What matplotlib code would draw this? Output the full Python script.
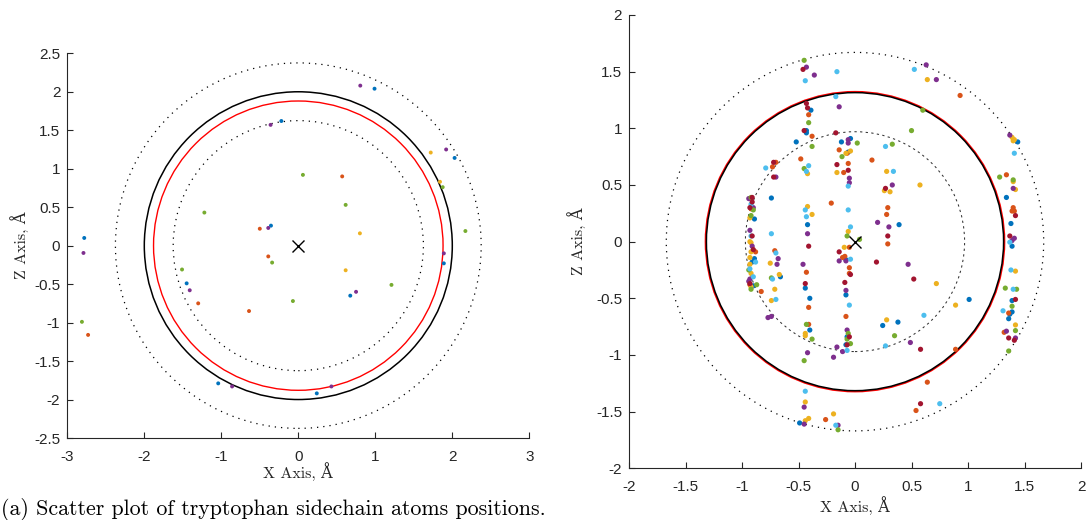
import numpy as np
import matplotlib
matplotlib.use("Agg")
import matplotlib.pyplot as plt
from matplotlib.patches import Circle

# MATLAB-style colour order
C_BLUE = "#0072BD"
C_ORANGE = "#D95319"
C_YELLOW = "#EDB120"
C_PURPLE = "#7E2F8E"
C_GREEN = "#77AC30"
C_LBLUE = "#4DBEEE"
C_DRED = "#A2142F"

# ---------------- panel (a): sidechain atom positions ----------------
a_blue_x = [-2.78, -0.22, -0.355, -1.45, -1.04, 0.99, 2.03, 1.89, 0.675, 0.24]
a_blue_z = [0.10, 1.62, 0.26, -0.49, -1.79, 2.04, 1.14, -0.23, -0.65, -1.92]
a_orange_x = [-0.50, -0.39, -1.30, -0.64, -2.73, 0.57]
a_orange_z = [0.22, -0.14, -0.75, -0.85, -1.16, 0.90]
a_yellow_x = [1.72, 1.84, 0.80, 0.615]
a_yellow_z = [1.21, 0.83, 0.16, -0.32]
a_purple_x = [-2.79, -0.36, -0.39, -1.41, -0.86, 0.805, 1.92, 1.89, 0.75, 0.43]
a_purple_z = [-0.095, 1.57, 0.23, -0.58, -1.83, 2.08, 1.25, -0.10, -0.60, -1.83]
a_green_x = [-1.22, -0.34, -1.51, -0.07, -2.81, 0.06, 1.875, 2.17, 0.615, 1.21]
a_green_z = [0.43, -0.22, -0.31, -0.72, -0.99, 0.92, 0.76, 0.19, 0.53, -0.51]

a_r_black = 2.0
a_r_red = 1.88
a_r_dotted = [2.375, 1.625]

# ---------------- panel (b) ----------------
b_blue_x = [-0.39, -0.43, -0.43, -0.52, -0.04, -0.12, -0.06, -0.74, -0.42, -0.89,
            0.39, 1.44, 1.34, 1.38,
            1.39, 1.39, 1.39, 1.37, 1.36, 0.245, 0.38, 1.01,
            -0.89, -0.91, -0.90, -0.66, -0.44, -0.40, -0.40, -0.49, -0.08, -0.07, -0.08, -0.08]
b_blue_z = [1.16, 0.98, 0.96, 0.88, 0.91, 0.88, 0.79, 0.385, 0.15, 0.20,
            0.15, 0.88, 0.39, 0.16,
            -0.04, -0.52, -0.62, -0.64, -0.68, -0.74, -0.71, -0.51,
            -0.15, -0.18, -0.39, -0.31, -0.41, -0.50, -0.78, -1.60, -0.47, -0.84, -0.91, -0.16]
b_orange_x = [-0.41, -0.38, -0.14, -0.07, -0.48, -0.70, -0.73, -0.10, -0.06, -0.21, -0.92,
              0.93, 0.15, 0.29, 0.28, 1.34, 1.40, 1.39, 1.41,
              1.36, 1.32, 0.89, 0.29, 0.64, 0.54,
              -0.88, -0.93, -0.83, -0.71, -0.43, -0.41, -0.41, -0.26, -0.09, -0.05, -0.05,
              -0.08, -0.05, -0.11]
b_orange_z = [1.12, 0.93, 0.81, 0.78, 0.73, 0.70, 0.66, 0.61, 0.69, 0.34, 0.29,
              1.29, 0.72, 0.30, 0.24, 0.59, 0.30, 0.27, 0.27,
              -0.63, -0.80, -0.95, -0.02, -1.24, -1.49,
              -0.09, -0.38, -0.44, -0.08, -0.27, -0.58, -0.73, -1.57, -0.13, -0.23, -0.28,
              -0.66, -0.05, -0.14]
b_yellow_x = [-0.08, -0.04, -0.42, -0.16, -0.42, -0.38, -0.06, -0.93,
              0.64, 0.28, 0.26, 0.31, 0.575, 1.39, 1.40, 1.41, 1.40, 1.42,
              1.42, 1.42, 0.28, 0.89, 0.72,
              -0.93, -0.92, -0.92, -0.93, -0.93, -0.92, -0.92, -0.75, -0.67, -0.71, -0.74,
              -0.44, -0.44, -0.44, -0.41, -0.44, -0.19, -0.095]
b_yellow_z = [0.78, 0.80, 0.60, 0.61, 0.31, 0.24, 0.09, 0.21,
              1.43, 0.62, 0.45, 0.44, 0.50, 0.92, 0.89, 0.90, 0.53, 0.46,
              -0.26, -0.735, -0.69, -0.56, -0.37,
              0.0, -0.01, -0.09, -0.14, -0.20, -0.28, -0.40, -0.19, -0.29, -0.42, -0.52,
              -0.81, -0.83, -1.415, -1.56, -1.58, -1.52, -0.05]
b_purple_x = [-0.43, -0.36, -0.14, -0.06, -0.06, -0.70, -0.05, -0.05, -0.42, -0.94, -0.90, -0.93,
              0.63, 0.72, 0.33, 0.20, 0.30, 1.37, 1.40, 1.41,
              1.39, 1.34, 1.42, 0.49, 0.47,
              -0.91, -0.93, -0.94, -0.68, -0.69, -0.77, -0.74, -0.46, -0.42, -0.45, -0.45,
              -0.15, -0.08, -0.08, -0.07, -0.11, -0.16, -0.19, -0.14]
b_purple_z = [1.54, 1.47, 1.19, 0.90, 0.87, 0.57, 0.56, 0.52, 0.07, 0.38, 0.30, 0.10,
              1.56, 1.43, 0.50, 0.17, 0.13, 0.94, 0.47, 0.03,
              0.01, -0.79, -0.85, -0.89, -0.20,
              -0.04, -0.33, -0.35, -0.15, -0.20, -0.67, -0.66, -0.20, -0.98, -1.46, -1.61,
              -1.62, -0.17, -0.43, -0.78, -0.97, -0.93, -1.02, -0.17]
b_green_x = [-0.45, -0.41, -0.38, -0.115, -0.45, -0.92, -0.90, -0.92,
             0.60, 0.50, 0.33, 0.02, 1.28, 1.40,
             1.33, 1.43, 1.39, 1.42, 1.36, 0.35,
             -0.94, -0.87, -0.92, -0.74, -0.43, -0.38, -0.45, -0.15, -0.06, -0.07, -0.04,
             -0.07, 0.04]
b_green_z = [1.60, 1.05, 0.84, 0.75, 0.645, 0.39, 0.28, 0.23,
             1.16, 0.98, 0.86, 0.87, 0.57, 0.545,
             -0.41, -0.42, -0.57, -0.785, -0.965, -0.83,
             -0.25, -0.38, -0.42, -0.32, -0.73, -0.86, -1.05, -1.66, -0.81, -0.86, -0.90,
             0.05, 0.02]
b_lblue_x = [-0.44, -0.16, -0.17, -0.79, -0.41, -0.43, -0.06, -0.06, -0.44, -0.43, -0.74, -0.04,
             -0.92, -0.92,
             0.525, 0.27, 0.34, 1.41,
             1.37, 1.38, 1.40, 1.31, 0.27, 0.61, 0.75,
             -0.88, -0.93, -0.90, -0.70, -0.73, -0.70, -0.44, -0.17, -0.05, -0.07, -0.04]
b_lblue_z = [1.42, 1.50, 1.28, 0.65, 0.67, 0.62, 0.49, 0.28, 0.28, 0.22, 0.07, 0.13,
             0.33, 0.05,
             1.52, 0.84, 0.62, 0.78,
             -0.005, -0.25, -0.42, -0.61, -0.92, -0.65, -1.43,
             -0.18, -0.24, -0.31, -0.10, -0.33, -0.51, -1.32, -1.62, -0.56, -0.96, -0.155]
b_dred_x = [-0.46, -0.43, -0.42, -0.45, -0.17, -0.72, -0.72, -0.16, -0.06, -0.91, -0.91, -0.93, -0.91,
            0.27, 0.29, 1.42, 1.37,
            1.42, 1.36, 1.41, 0.58, 0.52, 0.19, 0.58,
            -0.90, -0.93, -0.41, -0.44, -0.14, -0.04, -0.09, -0.05, -0.07]
b_dred_z = [1.52, 1.22, 1.18, 0.98, 0.96, 0.70, 0.57, 0.68, 0.63, 0.39, 0.35, 0.30, 0.05,
            0.47, 0.05, 0.23, 0.05,
            -0.51, -0.85, -0.87, -0.95, -0.33, -0.18, -1.43,
            -0.07, -0.37, -0.04, -0.37, -0.09, -0.29, -0.36, -0.84, -0.91]

b_r_black = 1.315
b_r_red = 1.323
b_r_outer = 1.67
b_r_inner = 0.97

a_xticks = [-3, -2, -1, 0, 1, 2, 3]
a_yticks = [-2.5, -2, -1.5, -1, -0.5, 0, 0.5, 1, 1.5, 2, 2.5]
b_ticks = [-2, -1.5, -1, -0.5, 0, 0.5, 1, 1.5, 2]

AXIS_COLOR = "#262626"
SERIF = ["cmr10", "DejaVu Serif"]
TICK_FONT = "Liberation Sans"

plt.rcParams["axes.formatter.use_mathtext"] = True

fig = plt.figure(figsize=(10.86, 5.20), dpi=100)


def fmt(v):
    return "%g" % v


def style_axes(ax, xticks, yticks, xlim, ylim, xpad, ypad):
    ax.set_xlim(*xlim)
    ax.set_ylim(*ylim)
    for side in ("top", "right"):
        ax.spines[side].set_visible(False)
    for side in ("left", "bottom"):
        ax.spines[side].set_color(AXIS_COLOR)
        ax.spines[side].set_linewidth(0.8)
    ax.set_xticks(xticks)
    ax.set_yticks(yticks)
    ax.set_xticklabels([fmt(v) for v in xticks], fontfamily=TICK_FONT, fontsize=11,
                       color=AXIS_COLOR)
    ax.set_yticklabels([fmt(v) for v in yticks], fontfamily=TICK_FONT, fontsize=11,
                       color=AXIS_COLOR)
    ax.tick_params(direction="in", length=4, width=0.8, color=AXIS_COLOR)
    ax.tick_params(axis="x", pad=8.5)
    ax.tick_params(axis="y", pad=5)
    ax.set_xlabel("X Axis, Å", fontfamily=SERIF, fontsize=11.5, color=AXIS_COLOR, labelpad=xpad)
    ax.set_ylabel("Z Axis, Å", fontfamily=SERIF, fontsize=11.5, color=AXIS_COLOR, labelpad=ypad)


# ---- left panel ----
ax1 = fig.add_axes([67.3 / 1086, (520 - 438) / 520, 462 / 1086, 384.7 / 520])
style_axes(ax1, a_xticks, a_yticks, (-3, 3), (-2.5, 2.5), xpad=-1.5, ypad=4)
for r in a_r_dotted:
    ax1.add_patch(Circle((0, 0), r, fill=False, ec="black", lw=0.9, ls=(0, (1, 4))))
ax1.add_patch(Circle((0, 0), a_r_black, fill=False, ec="black", lw=1.1))
ax1.add_patch(Circle((0, 0), a_r_red, fill=False, ec="red", lw=1.0))
for xs, zs, c in [(a_blue_x, a_blue_z, C_BLUE), (a_orange_x, a_orange_z, C_ORANGE),
                  (a_yellow_x, a_yellow_z, C_YELLOW), (a_purple_x, a_purple_z, C_PURPLE),
                  (a_green_x, a_green_z, C_GREEN)]:
    ax1.scatter(xs, zs, s=8, color=c, edgecolors="none", zorder=3)
ax1.plot([0], [0], marker="x", color="black", ms=9, mew=1.0, zorder=4)

# ---- right panel ----
ax2 = fig.add_axes([629 / 1086, (520 - 468.3) / 520, 452 / 1086, 453.3 / 520])
style_axes(ax2, b_ticks, b_ticks, (-2, 2), (-2, 2), xpad=1.5, ypad=7)
ax2.add_patch(Circle((0, 0), b_r_outer, fill=False, ec="black", lw=0.9, ls=(0, (1, 4))))
ax2.add_patch(Circle((0, 0), b_r_inner, fill=False, ec="#333333", lw=0.75, ls=(0, (2.2, 3.2))))
ax2.add_patch(Circle((0, 0), b_r_red, fill=False, ec="red", lw=1.2))
ax2.add_patch(Circle((0, 0), b_r_black, fill=False, ec="black", lw=1.1))
for xs, zs, c in [(b_blue_x, b_blue_z, C_BLUE), (b_orange_x, b_orange_z, C_ORANGE),
                  (b_yellow_x, b_yellow_z, C_YELLOW), (b_purple_x, b_purple_z, C_PURPLE),
                  (b_green_x, b_green_z, C_GREEN), (b_lblue_x, b_lblue_z, C_LBLUE),
                  (b_dred_x, b_dred_z, C_DRED)]:
    ax2.scatter(xs, zs, s=14, color=c, edgecolors="none", zorder=3)
ax2.plot([0], [0], marker="x", color="black", ms=9, mew=1.0, zorder=4)

fig.text(0.001, 0.009, "(a) Scatter plot of tryptophan sidechain atoms positions.",
         fontfamily=SERIF, fontsize=15.8, color="black", ha="left", va="baseline")

fig.savefig("out.png", dpi=100)
